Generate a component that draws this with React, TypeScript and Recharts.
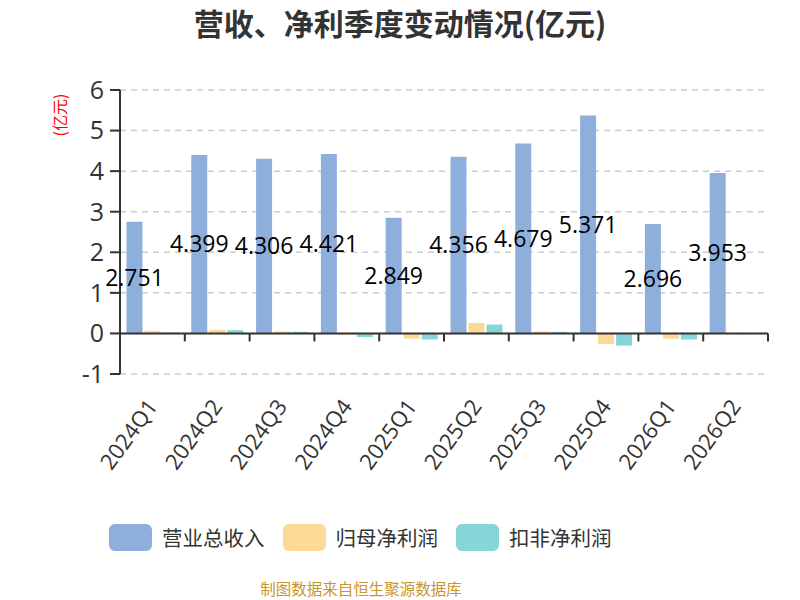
import { BarChart, Bar, XAxis, YAxis, CartesianGrid, LabelList, ReferenceLine } from 'recharts';

const quarters = ['2024Q1', '2024Q2', '2024Q3', '2024Q4', '2025Q1', '2025Q2', '2025Q3', '2025Q4', '2026Q1', '2026Q2'];
const revenue = [2.751, 4.399, 4.306, 4.421, 2.849, 4.356, 4.679, 5.371, 2.696, 3.953];
const netProfit = [0.06, 0.09, 0.05, -0.03, -0.13, 0.26, 0.05, -0.26, -0.13, 0.005];
const deductedProfit = [0.02, 0.08, 0.04, -0.09, -0.15, 0.22, 0.04, -0.3, -0.15, 0.01];
const yTicks = [-1, 0, 1, 2, 3, 4, 5, 6];

const series = [
  { key: 'revenue', name: '营业总收入', color: '#8eafdc' },
  { key: 'netProfit', name: '归母净利润', color: '#fdd998' },
  { key: 'deductedProfit', name: '扣非净利润', color: '#88d5d8' },
];

const chartData = quarters.map((q, i) => ({
  quarter: q,
  revenue: revenue[i],
  netProfit: netProfit[i],
  deductedProfit: deductedProfit[i],
}));

const FONT = '"Open Sans", "Noto Sans CJK SC", sans-serif';
const CJK = '"Noto Sans CJK SC", sans-serif';

function QuarterTick({ x, y, payload }: any) {
  return (
    <g transform={`translate(${x},${y + 28})`}>
      <text x={0} y={0} dy="0.35em" textAnchor="end" transform="rotate(-54)" fontSize={22} fill="#333" fontFamily={FONT}>
        {payload.value}
      </text>
    </g>
  );
}

// zero line with category boundary ticks hanging below it
function ZeroAxis({ x1, y1, x2 }: any) {
  const step = (x2 - x1) / quarters.length;
  return (
    <g>
      <line x1={x1} y1={y1} x2={x2} y2={y1} stroke="#333" strokeWidth={2} />
      {Array.from({ length: quarters.length + 1 }, (_, i) => (
        <line key={i} x1={x1 + i * step} y1={y1} x2={x1 + i * step} y2={y1 + 8} stroke="#333" strokeWidth={2} />
      ))}
    </g>
  );
}

function UnitLabel({ viewBox }: any) {
  const cx = viewBox.x + 60;
  const cy = viewBox.y + 25;
  return (
    <text x={cx} y={cy} textAnchor="middle" dy="0.35em" transform={`rotate(-90 ${cx} ${cy})`} fontSize={16} fill="#f00" fontFamily={CJK}>
      (亿元)
    </text>
  );
}

function LegendRow() {
  return (
    <div style={{ position: 'absolute', top: 522, left: 109, display: 'flex', alignItems: 'center', gap: 18, fontFamily: CJK }}>
      {series.map(s => (
        <div key={s.key} style={{ display: 'flex', alignItems: 'center', gap: 10 }}>
          <div style={{ width: 43, height: 27, borderRadius: 6, background: s.color }} />
          <span style={{ fontSize: 20.5, color: '#333' }}>{s.name}</span>
        </div>
      ))}
    </div>
  );
}

export default function App() {
  return (
    <div style={{ position: 'absolute', left: 0, top: 0, width: 800, height: 600, background: '#fff' }}>
      <div style={{ position: 'absolute', top: 0, width: 800, textAlign: 'center', fontFamily: CJK, fontWeight: 'bold', fontSize: 30, color: '#333' }}>
        营收、净利季度变动情况(亿元)
      </div>
      <BarChart
        width={800}
        height={600}
        data={chartData}
        margin={{ top: 90, right: 32, bottom: 126, left: 0 }}
        barCategoryGap="10%"
        barGap={2}
      >
        <CartesianGrid vertical={false} stroke="#ccc" strokeDasharray="6 5" strokeWidth={1.5} />
        <XAxis dataKey="quarter" axisLine={false} tickLine={false} tickSize={0} tickMargin={0} height={100} interval={0} tick={<QuarterTick />} />
        <YAxis
          width={120}
          domain={[-1, 6]}
          ticks={yTicks}
          interval={0}
          axisLine={{ stroke: '#333', strokeWidth: 2 }}
          tickLine={{ stroke: '#333', strokeWidth: 2 }}
          tickSize={10}
          tickMargin={6}
          tick={{ fontSize: 25, fill: '#333', fontFamily: FONT }}
          label={<UnitLabel />}
        />
        <ReferenceLine y={0} shape={<ZeroAxis />} />
        {series.map(s => (
          <Bar key={s.key} dataKey={s.key} name={s.name} fill={s.color} isAnimationActive={false}>
            {s.key === 'revenue' && (
              <LabelList dataKey="revenue" position="center" fill="#000" fontSize={23} fontFamily={FONT} />
            )}
          </Bar>
        ))}
      </BarChart>
      <LegendRow />
      <div style={{ position: 'absolute', top: 577, left: 0, width: 722, textAlign: 'center', fontFamily: CJK, fontSize: 15.5, color: '#c9962b' }}>
        制图数据来自恒生聚源数据库
      </div>
    </div>
  );
}
